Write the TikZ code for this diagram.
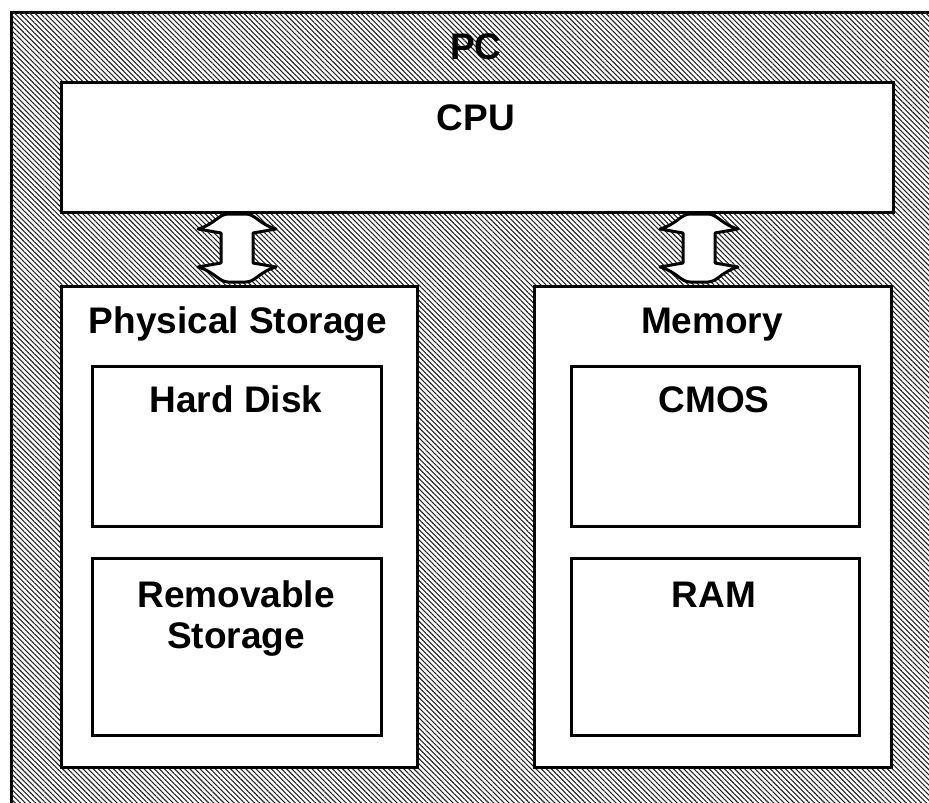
\documentclass[tikz,border=0pt]{standalone}
\usepackage{fontspec}
\setmainfont{Liberation Sans}
\usetikzlibrary{patterns.meta}
\tikzset{
  box/.style={draw=black, line width=3pt, fill=white, rectangle, inner sep=0pt, anchor=north west},
  lbl/.style={inner sep=0pt, anchor=base, font=\fontsize{37}{41}\selectfont\bfseries, align=center},
  blockarrow/.style={draw=black, line width=3pt, fill=white, line join=round},
  hatch/.style={pattern={Lines[angle=-45, distance=3.6pt, line width=1.1pt]}, pattern color=black!85}
}
\newcommand{\dblarr}[3]{%
  \draw[blockarrow] (#1-16,#2+19) -- (#1-39,#2+15)
    .. controls (#1-22,#2+10) and (#1-18,#2) .. (#1-9,#2) -- (#1+9,#2)
    .. controls (#1+18,#2) and (#1+22,#2+10) .. (#1+39,#2+15) -- (#1+16,#2+19)
    -- (#1+16,#3-19) -- (#1+39,#3-15)
    .. controls (#1+22,#3-10) and (#1+18,#3) .. (#1+9,#3) -- (#1-9,#3)
    .. controls (#1-18,#3) and (#1-22,#3-10) .. (#1-39,#3-15) -- (#1-16,#3-19) -- cycle;}
\begin{document}
\begin{tikzpicture}[x=1pt,y=-1pt]
\useasboundingbox (0,0) rectangle (929,803);
\begin{scope}
\clip (0,0) rectangle (929,803);
\path[fill=white] (0,0) rectangle (929,803);
\draw[line width=3pt, fill=white, postaction={hatch}] (11.5,12.5) rectangle (945,820);
\end{scope}
\node[lbl] (pc) at (476,59) {PC};
\node[box, minimum width=832pt, minimum height=130pt] (cpu) at (60,81) {};
\node[lbl] (cpulbl) at (476,130) {CPU};
\node[box, minimum width=356pt, minimum height=481pt] (phys) at (60,285) {};
\node[lbl] (physlbl) at (238,333) {Physical Storage};
\node[box, minimum width=289pt, minimum height=160pt] (hdd) at (91,365) {};
\node[lbl] (hddlbl) at (236,412) {Hard Disk};
\node[box, minimum width=289pt, minimum height=177pt] (rem) at (91,557) {};
\node[lbl] (remlbl1) at (236,607) {Removable};
\node[lbl] (remlbl2) at (236,648) {Storage};
\node[box, minimum width=357pt, minimum height=481pt] (mem) at (533,285) {};
\node[lbl] (memlbl) at (712,333) {Memory};
\node[box, minimum width=288pt, minimum height=160pt] (cmos) at (570,365) {};
\node[lbl] (cmoslbl) at (714,412) {CMOS};
\node[box, minimum width=288pt, minimum height=177pt] (ram) at (570,557) {};
\node[lbl] (ramlbl) at (714,607) {RAM};
\dblarr{237}{214}{282}
\dblarr{699}{214}{282}
\end{tikzpicture}
\end{document}
